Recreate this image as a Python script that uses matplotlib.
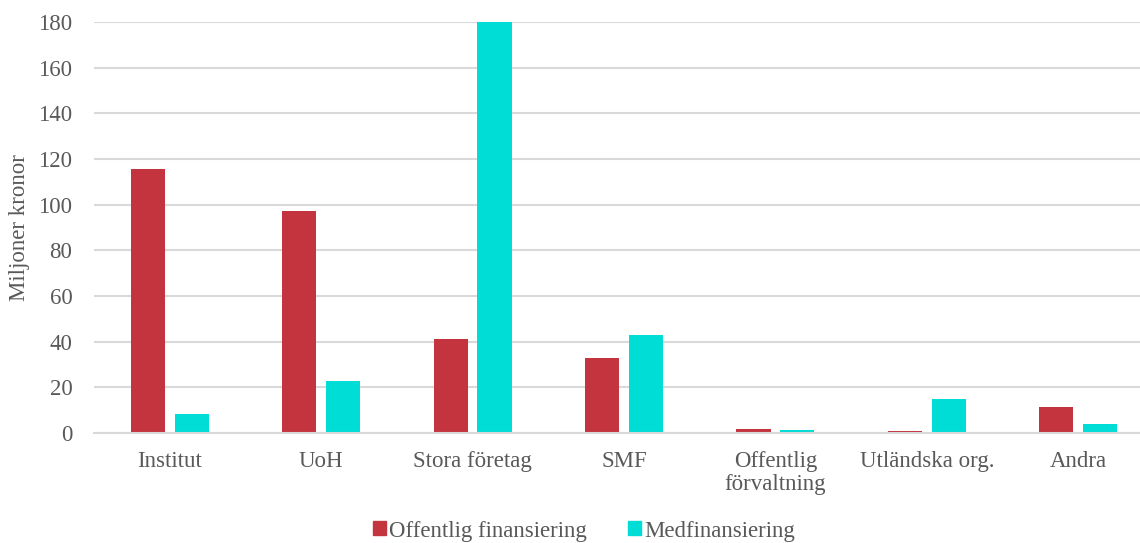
import matplotlib
matplotlib.use("Agg")
import matplotlib.pyplot as plt
import numpy as np
from matplotlib.patches import Patch

categories = ["Institut", "UoH", "Stora företag", "SMF",
              "Offentlig\nförvaltning", "Utländska org.", "Andra"]
offentlig = [115.6, 97.2, 41.2, 32.9, 1.7, 0.7, 11.4]
medfinansiering = [8.3, 22.8, 180.0, 42.9, 1.1, 14.9, 3.8]
yticks = [0, 20, 40, 60, 80, 100, 120, 140, 160, 180]

RED = "#C4343F"
CYAN = "#00DCD6"
TEXT = "#595959"
GRID = "#D9D9D9"
FS = 16.5

plt.rcParams["font.family"] = ["Liberation Serif", "DejaVu Serif"]

fig = plt.figure(figsize=(11.4, 5.43), dpi=100)
W, H = 1140, 543
ax = fig.add_axes([94 / W, 110 / H, 1060 / W, 411 / H])

x = np.arange(len(categories))
bw = 0.225
ax.bar(x - 0.145, offentlig, width=bw, color=RED, linewidth=0, zorder=3)
ax.bar(x + 0.145, medfinansiering, width=bw, color=CYAN, linewidth=0, zorder=3)

ax.set_xlim(-0.5, len(categories) - 0.5)
ax.set_ylim(0, 180)
ax.set_yticks(yticks)
ax.set_xticks(x)
ax.set_xticklabels(categories, linespacing=1.1)
ax.tick_params(axis="both", length=0, colors=TEXT, labelsize=FS)
ax.tick_params(axis="x", pad=13)
ax.tick_params(axis="y", pad=15.5)

ax.yaxis.grid(True, color=GRID, linewidth=1.5, zorder=0)
for s in ["top", "right", "left"]:
    ax.spines[s].set_visible(False)
ax.spines["bottom"].set_color(GRID)
ax.spines["bottom"].set_linewidth(1.5)
ax.spines["bottom"].set_zorder(4)

ax.set_ylabel("Miljoner kronor", color=TEXT, fontsize=FS)
ax.yaxis.set_label_coords((30 - 94) / 1060, 0.5)

handles = [Patch(color=RED, label="Offentlig finansiering"),
           Patch(color=CYAN, label="Medfinansiering")]
fig.legend(handles=handles, loc="center", bbox_to_anchor=(584 / W, 1 - 531 / H),
           ncol=2, frameon=False, fontsize=FS, labelcolor=TEXT,
           handlelength=0.55, handleheight=0.55, handletextpad=0.15,
           columnspacing=1.8)

fig.savefig("out.png", dpi=100)
